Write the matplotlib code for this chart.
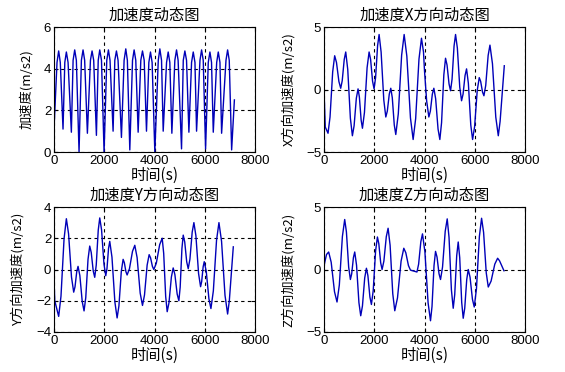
import numpy as np
import matplotlib
matplotlib.use('Agg')
import matplotlib.pyplot as plt

plt.rcParams['font.family'] = ['Noto Sans CJK SC', 'DejaVu Sans']

# ------------------------------------------------------
#                       DATA
# ------------------------------------------------------
# total acceleration (troughs, shoulders, peaks)
t_a = [0, 120, 186, 250, 359,
       430, 492, 560, 691,
       760, 824, 890, 997,
       1090, 1156, 1220, 1329,
       1450, 1515, 1580, 1688,
       1760, 1821, 1890, 1993,
       2100, 2166, 2230, 2352,
       2420, 2485, 2550, 2684,
       2790, 2857, 2920, 3017,
       3125, 3189, 3255, 3349,
       3455, 3522, 3590, 3681,
       3775, 3840, 3905, 4013,
       4150, 4213, 4280, 4346,
       4480, 4545, 4610, 4691,
       4810, 4877, 4940, 5076,
       5145, 5209, 5275, 5369,
       5475, 5542, 5610, 5674,
       5810, 5874, 5940, 6033,
       6140, 6206, 6270, 6339,
       6475, 6538, 6605, 6671,
       6845, 6910, 6975, 7070,
       7180]
a_tot = [1.1, 4.3, 4.85, 4.3, 1.1,
         4.3, 4.8, 4.3, 0.95,
         4.4, 4.9, 4.4, 0.0,
         4.4, 4.9, 4.4, 0.9,
         4.4, 4.85, 4.4, 0.8,
         4.4, 4.9, 4.4, 0.0,
         4.4, 4.9, 4.4, 1.0,
         4.4, 4.85, 4.4, 0.7,
         4.4, 4.95, 4.4, 0.1,
         4.4, 4.9, 4.4, 0.95,
         4.4, 4.85, 4.4, 1.0,
         4.3, 4.8, 4.3, 0.0,
         4.4, 4.95, 4.4, 1.0,
         4.3, 4.8, 4.3, 0.9,
         4.4, 4.9, 4.4, 0.15,
         4.4, 4.85, 4.4, 0.95,
         4.3, 4.8, 4.3, 1.0,
         4.4, 4.9, 4.4, 0.15,
         4.3, 4.8, 4.3, 0.95,
         4.3, 4.8, 4.3, 0.9,
         4.4, 4.9, 4.4, 0.1,
         2.5]

# X direction
t_x = [0, 50, 160, 240, 345, 425, 497, 593, 665, 725, 805, 865, 945, 1050,
       1130, 1198, 1287, 1355, 1408, 1478, 1530, 1610, 1715, 1795, 1855, 1933,
       1993, 2053, 2133, 2193, 2273, 2380, 2460, 2520, 2598, 2658, 2718, 2797,
       2857, 2957, 3090, 3190, 3297, 3441, 3548, 3648, 3780, 3880, 3960, 4000,
       4085, 4173, 4233, 4312, 4372, 4444, 4539, 4611, 4679, 4769, 4837, 4897,
       4977, 5037, 5097, 5176, 5236, 5308, 5403, 5475, 5535, 5614, 5674, 5746,
       5842, 5914, 5994, 6099, 6179, 6235, 6309, 6365, 6437, 6533, 6605, 6705,
       6837, 6937, 7009, 7176]
a_x = [0.0, -3.0, -3.5, -2.2, 1.4, 2.7, 2.16, 0.64, 0.1, 0.7, 2.4, 3.0, 1.6, -2.3,
       -3.7, -2.9, -0.7, 0.05, -0.6, -2.45, -3.1, -1.84, 1.74, 3.0, 2.4, 0.66,
       0.05, 0.95, 3.5, 4.4, 3.0, -0.84, -2.2, -1.73, -0.37, 0.1, -0.66, -2.84,
       -3.6, -1.95, 2.75, 4.4, 2.67, -2.27, -4.0, -2.33, 2.43, 4.1, 3.0, 1.5,
       -0.9, -2.2, -1.73, -0.37, 0.1, -0.74, -3.16, -4.0, -2.66, 1.16, 2.5, 1.96,
       0.44, -0.1, 0.83, 3.47, 4.4, 3.31, 0.19, -0.9, -0.37, 1.12, 1.65, 0.49,
       -2.84, -4.0, -2.98, -0.07, 0.95, 0.65, -0.2, -0.5, 0.33, 2.72, 3.55, 2.06,
       -2.21, -3.7, -2.55, 1.9]

# Y direction
t_y = [0, 30, 186, 278, 400, 492, 580, 696, 784, 836, 905, 957, 1029, 1124,
       1196, 1264, 1354, 1422, 1482, 1561, 1621, 1681, 1761, 1821, 1893, 1988,
       2060, 2108, 2171, 2219, 2307, 2424, 2512, 2584, 2679, 2751, 2799, 2862,
       2910, 3002, 3124, 3216, 3308, 3430, 3522, 3602, 3707, 3787, 3843, 3917,
       3973, 4073, 4206, 4306, 4366, 4445, 4505, 4577, 4672, 4744, 4812, 4902,
       4970, 5022, 5091, 5143, 5203, 5282, 5342, 5410, 5500, 5568, 5648, 5754,
       5834, 5878, 5936, 5980, 6060, 6166, 6246, 6342, 6469, 6565, 6669, 6806,
       6910, 6978, 7136]
a_y = [-0.6, -2.0, -3.0, -1.71, 1.96, 3.25, 2.28, -0.48, -1.45, -1.11, -0.14, 0.2,
       -0.39, -2.06, -2.65, -1.8, 0.65, 1.5, 1.09, -0.09, -0.5, 0.28, 2.52, 3.3,
       2.54, 0.36, -0.4, 0.05, 1.35, 1.8, 0.79, -2.09, -3.1, -2.33, -0.12, 0.65,
       0.44, -0.14, -0.35, 0.04, 1.16, 1.55, 0.76, -1.51, -2.3, -1.63, 0.28, 0.95,
       0.75, 0.2, 0.0, 0.41, 1.59, 2.0, 1.03, -1.73, -2.7, -2.12, -0.48, 0.1,
       -0.33, -1.57, -2.0, -1.13, 1.33, 2.2, 1.76, 0.49, 0.05, 0.66, 2.39, 3.0,
       2.16, -0.26, -1.1, -0.77, 0.17, 0.5, -0.12, -1.88, -2.5, -1.37, 1.87, 3.0,
       1.8, -1.65, -2.85, -2.0, 1.45]

# Z direction
t_z = [0, 100, 186, 286, 418, 518, 610, 732, 824, 892, 982, 1050, 1102, 1171,
       1223, 1295, 1390, 1462, 1530, 1620, 1688, 1748, 1827, 1887, 1959, 2054,
       2126, 2182, 2256, 2312, 2384, 2479, 2551, 2631, 2737, 2817, 2925, 3068,
       3176, 3256, 3362, 3442, 3700, 3766, 3854, 3920, 4016, 4143, 4239, 4299,
       4379, 4439, 4499, 4578, 4638, 4718, 4824, 4904, 4976, 5071, 5143, 5203,
       5282, 5342, 5402, 5481, 5541, 5601, 5681, 5741, 5813, 5908, 5980, 6068,
       6184, 6272, 6352, 6458, 6538, 6650, 6798, 6910, 6986, 7163]
a_z = [0.3, 1.2, 1.4, 0.58, -1.78, -2.6, -1.24, 2.64, 4.0, 3.01, 0.19, -0.8,
       -0.35, 0.95, 1.4, 0.35, -2.65, -3.7, -2.92, -0.68, 0.1, -0.5, -2.2, -2.8,
       -1.69, 1.49, 2.6, 2.06, 0.54, 0.0, 0.68, 2.62, 3.3, 1.94, -1.94, -3.3,
       -2.27, 0.67, 1.7, 1.34, 0.31, -0.05, -0.2, 0.43, 2.22, 2.85, 1.42, -2.67,
       -4.1, -2.96, 0.31, 1.45, 0.99, -0.34, -0.8, 0.2, 3.05, 4.05, 2.58, -1.63,
       -3.1, -2.01, 1.11, 2.2, 0.94, -2.64, -3.9, -3.1, -0.8, 0.0, -0.62, -2.38,
       -3.0, -1.54, 2.64, 4.1, 2.97, -0.27, -1.4, -0.93, 0.43, 0.9, 0.7, -0.1]

titles = ['加速度动态图', '加速度X方向动态图', '加速度Y方向动态图', '加速度Z方向动态图']
ylabels = ['加速度(m/s2)', 'X方向加速度(m/s2)', 'Y方向加速度(m/s2)', 'Z方向加速度(m/s2)']
yranges = [(0, 6), (-5, 5), (-4, 4), (-5, 5)]
yticks = [[0, 2, 4, 6], [-5, 0, 5], [-4, -2, 0, 2, 4], [-5, 0, 5]]
xticks = [0, 2000, 4000, 6000, 8000]

series = [(t_a, a_tot), (t_x, a_x), (t_y, a_y), (t_z, a_z)]

# axes boxes in pixels (left, top)
W, H = 565, 372
boxes = [(54, 27), (324, 27), (54, 207), (324, 207)]

fig = plt.figure(figsize=(W / 100, H / 100), dpi=100)
for i in range(4):
    x0, y0 = boxes[i]
    ax = fig.add_axes([x0 / W, 1 - (y0 + 125) / H, 201 / W, 125 / H])
    t, v = series[i]
    ax.plot(t, v, color='#0000b8', linewidth=1.0)
    ax.set_xlim(0, 8000)
    ax.set_ylim(*yranges[i])
    ax.set_xticks(xticks)
    ax.set_yticks(yticks[i])
    ax.tick_params(direction='in', length=3, labelsize=9.5, pad=2,
                   top=True, right=True)
    for lab in ax.get_xticklabels() + ax.get_yticklabels():
        lab.set_family(['Liberation Sans', 'DejaVu Sans'])
    ax.grid(True, color='black', linestyle=(0, (3, 3)), linewidth=0.8)
    ax.set_title(titles[i], fontsize=11, pad=5)
    ax.set_xlabel('时间(s)', fontsize=11, labelpad=0)
    ax.set_ylabel(ylabels[i], fontsize=9.5, labelpad=8)
    for s in ax.spines.values():
        s.set_linewidth(0.8)

fig.savefig('out.png', dpi=100)
